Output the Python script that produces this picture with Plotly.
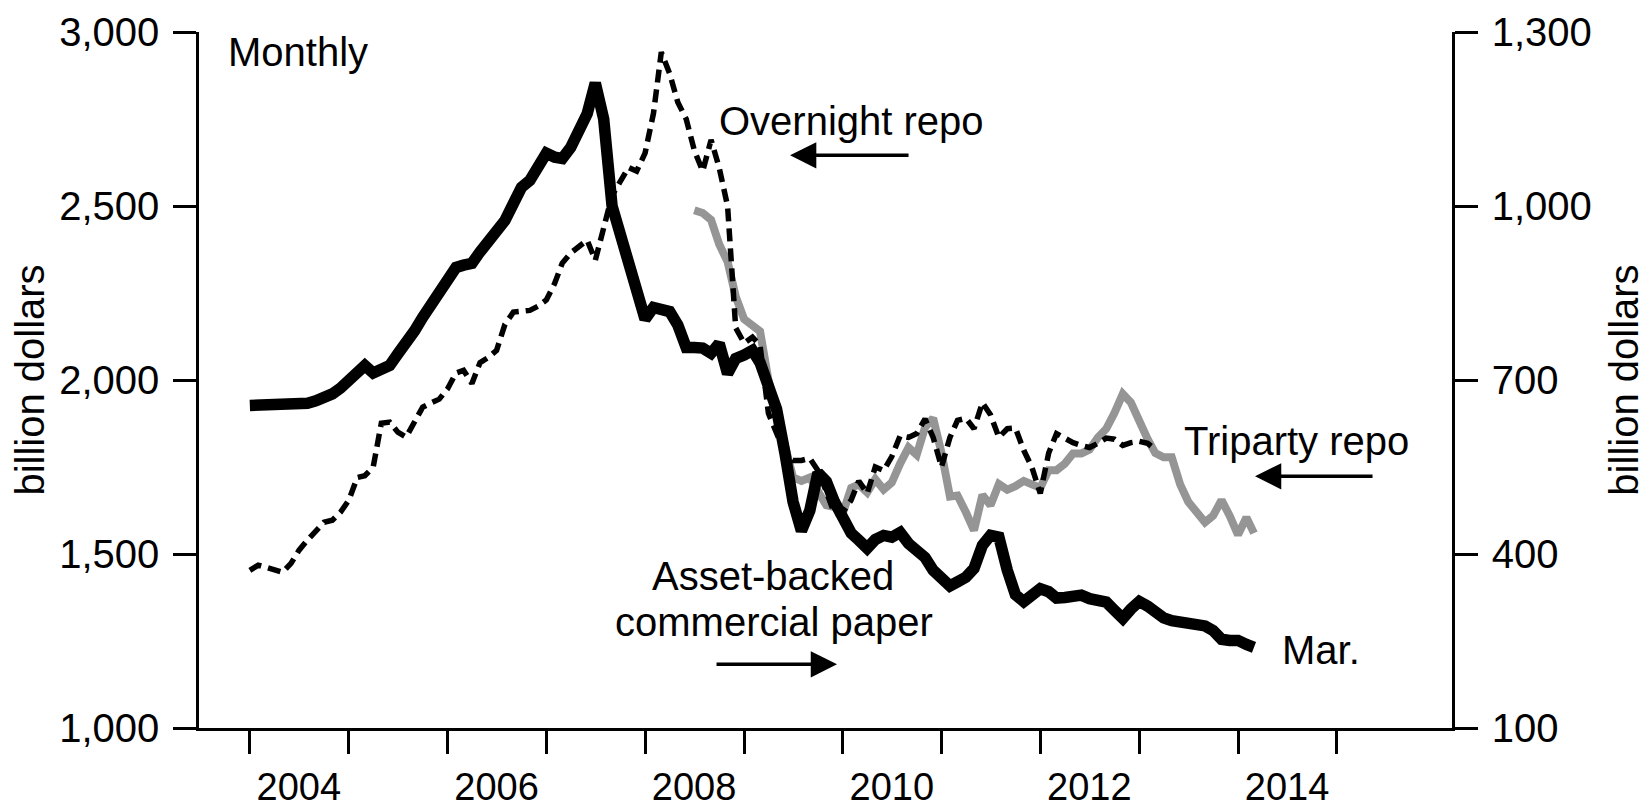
import pandas as pd
import plotly.graph_objects as go

# monthly, Jan 2004 onward
abcp = [656, 656, 656, 656, 656, 656, 656, 660, 664, 668, 676, 686,
        698, 712, 725, 712, 716, 725, 745, 763, 785, 808, 828, 850,
        872, 894, 898, 901, 921, 941, 958, 975, 1004, 1032, 1044, 1068,
        1091, 1084, 1082, 1101, 1130, 1159, 1212, 1150, 1000, 950, 905, 850,
        805, 825, 822, 818, 795, 756, 756, 755, 746, 763, 711, 737,
        743, 751, 730, 690, 650, 574, 490, 440, 475, 540, 525, 490,
        460, 436, 424, 410, 425, 432, 429, 437, 418, 405, 394, 372,
        360, 345, 352, 360, 375, 415, 432, 429, 372, 330, 318, 328,
        340, 335, 324, 325, 326, 329, 323, 318, 317, 303, 289, 305,
        318, 310, 300, 290, 285, 282, 281, 281, 276, 268, 253, 251,
        251, 244, 239]

overnight_repo = [1453, 1468, 1462, 1455, 1447, 1473, 1511, 1540, 1568, 1591, 1597, 1620,
                  1655, 1720, 1725, 1750, 1876, 1879, 1850, 1836, 1880, 1922, 1934, 1945,
                  1975, 2020, 2028, 1990, 2050, 2065, 2085, 2160, 2195, 2198, 2200, 2212,
                  2230, 2278, 2336, 2365, 2382, 2402, 2344, 2440, 2530, 2570, 2611, 2600,
                  2652, 2766, 2942, 2880, 2798, 2750, 2660, 2600, 2690, 2610, 2500, 2150,
                  2106, 2123, 2100, 1904, 1850, 1790, 1769, 1769, 1775, 1740, 1680, 1615,
                  1620, 1655, 1710, 1674, 1750, 1740, 1780, 1840, 1835, 1846, 1888, 1835,
                  1750, 1835, 1884, 1890, 1860, 1935, 1900, 1835, 1860, 1862, 1798, 1749,
                  1674, 1790, 1846, 1832, 1820, 1812, 1806, 1818, 1833, 1830, 1812, 1820,
                  1824, 1818, 1800]

# starts Jul 2008
triparty_repo = [2488, 2480, 2460, 2390, 2340, 2240, 2175, 2160, 2140, 2000, 1900, 1810,
                 1720, 1710, 1720, 1680, 1640, 1635, 1617, 1690, 1700, 1677, 1715, 1685,
                 1705, 1760, 1806, 1785, 1864, 1890, 1790, 1665, 1668, 1620, 1568, 1670,
                 1640, 1701, 1685, 1695, 1710, 1700, 1690, 1741, 1741, 1760, 1789, 1789,
                 1800, 1835, 1860, 1905, 1960, 1935, 1880, 1830, 1790, 1778, 1778, 1700,
                 1650, 1617, 1591, 1610, 1655, 1610, 1555, 1605, 1560]

months = pd.date_range("2004-01-01", periods=len(abcp), freq="MS")
triparty_start = 54

year_ticks = [f"{y}-01-01" for y in range(2004, 2016)]
year_text = [str(y) if y % 2 == 0 else "" for y in range(2004, 2016)]
left_ticks = [1000, 1500, 2000, 2500, 3000]
right_ticks = [100, 400, 700, 1000, 1300]

FONT = "Liberation Sans, Arial, sans-serif"
GRAY = "#959595"

fig = go.Figure()
fig.add_trace(go.Scatter(
    x=months[triparty_start:], y=triparty_repo, mode="lines",
    line=dict(color=GRAY, width=8), name="Triparty repo"))
fig.add_trace(go.Scatter(
    x=months[:len(overnight_repo)], y=overnight_repo, mode="lines",
    line=dict(color="black", width=5.5, dash="13px,7px"), name="Overnight repo"))
fig.add_trace(go.Scatter(
    x=months, y=abcp, mode="lines", yaxis="y2",
    line=dict(color="black", width=11.5), name="Asset-backed commercial paper"))

axis_common = dict(showline=True, linecolor="black", linewidth=2.5,
                   ticks="outside", ticklen=23, tickwidth=2.5, tickcolor="black",
                   showgrid=False, zeroline=False, automargin=False,
                   tickfont=dict(family=FONT, size=40, color="black"))

# page body has an 8px margin, so the figure is 8px smaller than the window
fig.update_layout(
    width=1642, height=800,
    margin=dict(l=191, r=198, t=24, b=80),
    paper_bgcolor="white", plot_bgcolor="white",
    showlegend=False,
    font=dict(family=FONT, size=40, color="black"),
    xaxis=dict(axis_common, type="date",
               range=["2003-06-27", "2016-03-02"],
               tickmode="array", tickvals=year_ticks, ticktext=year_text,
               tickfont=dict(family=FONT, size=38, color="black"),
               ticklabelshift=49, ticklabelstandoff=1),
    yaxis=dict(axis_common, range=[1000, 3000],
               tickmode="array", tickvals=left_ticks, tickformat=",",
               ticklabelstandoff=6,
               title=dict(text="billion dollars", standoff=10,
                          font=dict(family=FONT, size=40))),
    yaxis2=dict(axis_common, range=[100, 1300], overlaying="y", side="right",
                tickmode="array", tickvals=right_ticks, tickformat=",",
                ticklabelstandoff=6,
                title=dict(text="billion dollars", standoff=20,
                           font=dict(family=FONT, size=40))),
)

text_font = dict(family=FONT, size=40, color="black")
labels = [
    ("Monthly", 0.0215, 0.971, "left"),
    ("Overnight repo", 0.4134, 0.8717, "left"),
    ("Triparty repo", 0.7845, 0.412, "left"),
    ("Asset-backed", 0.458, 0.218, "center"),
    ("commercial paper", 0.459, 0.152, "center"),
    ("Mar.", 0.8627, 0.1117, "left"),
]
for txt, xp, yp, anchor in labels:
    fig.add_annotation(text=txt, x=xp, y=yp, xref="paper", yref="paper",
                       xanchor=anchor, yanchor="middle", showarrow=False,
                       font=text_font)

# arrows: head position in paper coords, tail offset in pixels
arrows = [(0.4717, 0.8228, 120), (0.8428, 0.3616, 119), (0.5092, 0.0915, -122)]
for xp, yp, dx in arrows:
    fig.add_annotation(text="", x=xp, y=yp, xref="paper", yref="paper",
                       ax=dx, ay=0, axref="pixel", ayref="pixel",
                       showarrow=True, arrowhead=2, arrowsize=1.5,
                       arrowwidth=3.5, arrowcolor="black")

fig.write_html("out.html")
